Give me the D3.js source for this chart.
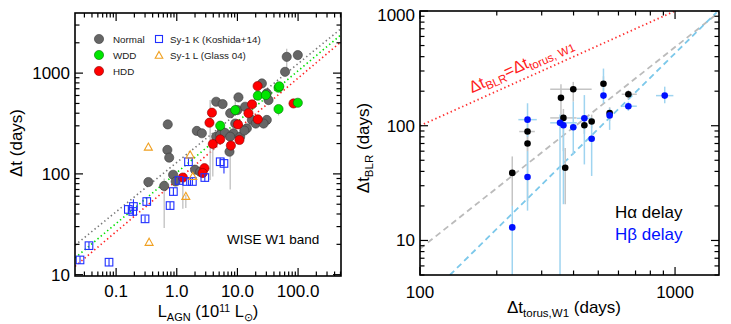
<!DOCTYPE html>
<html><head><meta charset="utf-8">
<script src="https://cdn.jsdelivr.net/npm/d3@7"></script>
<style>body{margin:0;background:#fff}svg{display:block;font-family:"Liberation Sans",Arial,sans-serif}</style>
</head><body><svg id="c" width="731" height="324"></svg>
<script>
// ---------- LEFT PANEL DATA: [L_AGN (1e11 Lsun), dt (days)] ----------
const normalPts = [[0.71,310],[0.70,173],[0.75,145],[0.34,83],[0.62,76],[0.87,98],[0.96,84],[2.14,267],[2.59,253],[2.0,110],[2.43,105],
 [4.46,520],[5.7,493],[4.46,234],[5.5,264],[7.6,400],[10.4,575],[7.4,166],[8.6,253],[10,430],[9.2,316],[13.4,464],[14.3,283],
 [17.3,343],[20,316],[25.3,790],[30.5,630],[30.5,343],[27,316],[32.6,540],[61,1030],[65,1450],[99,1510],[5.2,243],[6.2,256],
 [7.6,234],[11.1,234],[13,269]];
const hddPts = [[1.26,92],[2.86,114],[2.67,102],[3.46,322],[3.8,405],[3.93,198],[5.2,220],[7.8,191],[10.2,310],[10.8,217],
 [15.2,400],[17.4,490],[21.7,348],[21.5,743],[84,500]];
const wddPts = [[5.2,301],[9.2,430],[21.7,597],[29.4,606],[47.6,716],[49,740],[47.6,440],[99,508]];
const sy1kPts = [[0.0254,14.0],[0.0357,19.4],[0.0764,13.3],[0.159,44.4],[0.193,47.5],[0.188,42.4],[0.32,53.2],[0.30,35.8],
 [0.776,48.5],[0.88,66.8],[1.09,86],[1.46,84],[1.81,84],[1.56,132],[2.9,92],[5.2,132],[6.0,127]];
const sy1kLo = [12.8,17.8,12.2,40,38,39,49,33,44.5,61,79,77,77,121,84,121,101];
const sy1kHi = [15.2,21.1,14.4,48.5,56,46,57.5,38.5,52.5,72.5,93,91,91,143,100,145,143];
const sy1lPts = [[0.34,184],[0.35,20.9],[1.41,59.7],[1.66,154],[1.84,94]];
// gray vertical error bars: [L, lo, hi]
const leftErr = [[0.62,29,90],[1.26,45,100],[3.55,87,540],[3.93,94,253],[7.6,70,186],[47.6,380,470],[65,1100,1750],[9.2,430,560],[1.41,46,62]];
// fitted relations dt = A * L^B (gray, green, red)
const fitNormal = [130,0.49], fitWDD = [103,0.505], fitHDD = [86,0.508];
const leftXTicks = [0.1,1,10,100], leftXTickLabels = ["0.1","1.0","10.0","100.0"];
const leftYTicks = [10,100,1000], leftYTickLabels = ["10","100","1000"];

// ---------- RIGHT PANEL DATA ----------
// [dt_torus, dt_BLR, xlo, xhi, ylo, yhi]
const haPts = [[230,38.8,null,null,20,54],[264,89,245,282,60,105],[264,70,null,null,22,85],[357,175,null,null,120,230],
 [365,117,324,411,60,140],[371,43,null,null,20.7,64],[399,208,324,471,162,241],[441,101,null,null,85,120],
 [471,109,null,null,95,125],[524,232,null,null,200,270],[554,129,null,null,110,145],[656,188,618,708,170,205]];
const hbPts = [[230,13,null,null,3,20],[264,113,243,287,80,157],[264,35.7,null,null,18.2,60],[354,106,324,412,3,125],
 [365,101,null,null,20.7,120],[399,97,null,null,56,162],[441,116,412,471,46,185],[471,77,null,null,36.5,116],
 [524,183,null,null,157,315],[554,123,null,null,92,142],[656,148,618,708,135,162],[911,183,842,985,157,219]];
const grayFit = [[100,8.47],[1487,973]];
const blueFit = [[131,5],[1455,973]];
const equality = [[100,100],[1000,1000]];
const rightXTicks = [100,1000], rightXTickLabels = ["100","1000"];
const rightYTicks = [10,100,1000], rightYTickLabels = ["10","100","1000"];

const svg = d3.select("#c");
const defs = svg.append("defs");

function minorTicks(domain){
  const out=[]; const lo=Math.floor(Math.log10(domain[0])), hi=Math.ceil(Math.log10(domain[1]));
  for(let e=lo;e<=hi;e++) for(let m=1;m<10;m++){const v=m*Math.pow(10,e); if(v>=domain[0]&&v<=domain[1]) out.push(v);}
  return out;
}
function frame(g,x,y,majX,majY){
  const [x0,x1]=x.range(), [y0,y1]=y.range();
  const all = minorTicks(x.domain()), allY = minorTicks(y.domain());
  const ln=(a,b,c,d)=>g.append("line").attr("x1",a).attr("y1",b).attr("x2",c).attr("y2",d).attr("stroke","#000").attr("stroke-width",1.2);
  all.forEach(v=>{const L=majX.includes(v)?8:4.5; const px=x(v); ln(px,y0,px,y0-L); ln(px,y1,px,y1+L);});
  allY.forEach(v=>{const L=majY.includes(v)?8:4.5; const py=y(v); ln(x0,py,x0+L,py); ln(x1,py,x1-L,py);});
  g.append("rect").attr("x",x0).attr("y",y1).attr("width",x1-x0).attr("height",y0-y1).attr("fill","none").attr("stroke","#000").attr("stroke-width",1.6);
}
function clip(id,x,y){
  const [x0,x1]=x.range(), [y0,y1]=y.range();
  defs.append("clipPath").attr("id",id).append("rect").attr("x",x0).attr("y",y1).attr("width",x1-x0).attr("height",y0-y1);
}

// ================= LEFT =================
const lx = d3.scaleLog().domain([0.021,510]).range([75,341]);
const ly = d3.scaleLog().domain([9.7,3950]).range([276,13]);
clip("cl",lx,ly);
const L = svg.append("g");
const Lp = L.append("g").attr("clip-path","url(#cl)");
// fits
[[fitNormal,"#777"],[fitWDD,"#00e000"],[fitHDD,"#ff2020"]].forEach(([f,c])=>{
  const xs=[0.021,510];
  Lp.append("line").attr("x1",lx(xs[0])).attr("y1",ly(f[0]*Math.pow(xs[0],f[1])))
    .attr("x2",lx(xs[1])).attr("y2",ly(f[0]*Math.pow(xs[1],f[1])))
    .attr("stroke",c).attr("stroke-width",1.6).attr("stroke-dasharray","1.4,2.8");
});
// error bars
Lp.selectAll(".le").data(leftErr).join("line").attr("x1",d=>lx(d[0])).attr("x2",d=>lx(d[0]))
  .attr("y1",d=>ly(d[1])).attr("y2",d=>ly(d[2])).attr("stroke","#bbb").attr("stroke-width",1.2);
const circ=(data,fill,stroke)=>Lp.append("g").selectAll("circle").data(data).join("circle")
  .attr("cx",d=>lx(d[0])).attr("cy",d=>ly(d[1])).attr("r",4.6).attr("fill",fill).attr("stroke",stroke).attr("stroke-width",0.6);
circ(normalPts,"#666","#3a3a3a");
circ(hddPts,"#ff0000","#8a0000");
circ(wddPts,"#00e600","#007000");
// Sy-1 K squares
Lp.append("g").selectAll("line").data(sy1kPts).join("line")
  .attr("x1",d=>lx(d[0])).attr("x2",d=>lx(d[0])).attr("y1",(d,i)=>ly(sy1kLo[i])).attr("y2",(d,i)=>ly(sy1kHi[i]))
  .attr("stroke","#2030ff").attr("stroke-width",1.1);
Lp.append("g").selectAll("rect").data(sy1kPts).join("rect")
  .attr("x",d=>lx(d[0])-3.8).attr("y",d=>ly(d[1])-3.8).attr("width",7.6).attr("height",7.6)
  .attr("fill","none").attr("stroke","#2030ff").attr("stroke-width",1.1);
// Sy-1 L triangles
const tri=(cx,cy,s)=>`M${cx},${cy-s}L${cx+s*0.95},${cy+s*0.7}L${cx-s*0.95},${cy+s*0.7}Z`;
Lp.append("g").selectAll("path").data(sy1lPts).join("path").attr("d",d=>tri(lx(d[0]),ly(d[1]),4.2))
  .attr("fill","none").attr("stroke","#f0a020").attr("stroke-width",1.1);
frame(L,lx,ly,leftXTicks,leftYTicks);
// tick labels
L.selectAll(".xl").data(leftXTicks).join("text").attr("x",d=>lx(d)).attr("y",297).attr("text-anchor","middle")
  .attr("font-size",17).text((d,i)=>leftXTickLabels[i]);
L.selectAll(".yl").data(leftYTicks).join("text").attr("x",70).attr("y",d=>ly(d)+6).attr("text-anchor","end")
  .attr("font-size",17).text((d,i)=>leftYTickLabels[i]);
// titles
L.append("text").attr("transform","translate(22,143) rotate(-90)").attr("text-anchor","middle").attr("font-size",17).text("Δt (days)");
const xt = L.append("text").attr("x",208).attr("y",317).attr("text-anchor","middle").attr("font-size",16.5);
xt.append("tspan").text("L");
xt.append("tspan").attr("font-size",11).attr("dy",4).text("AGN");
xt.append("tspan").attr("dy",-4).text(" (10");
xt.append("tspan").attr("font-size",10.5).attr("dy",-5).text("11");
xt.append("tspan").attr("dy",5).text(" L");
xt.append("tspan").attr("font-size",11).attr("dy",4).text("⊙");
xt.append("tspan").attr("dy",-4).text(")");
L.append("text").attr("x",227).attr("y",244).attr("font-size",13.5).text("WISE W1 band");
// legend
const lg = L.append("g").attr("font-size",9.8).attr("fill","#222");
[["Normal","#666","#3a3a3a"],["WDD","#00e600","#007000"],["HDD","#ff0000","#8a0000"]].forEach((r,i)=>{
  lg.append("circle").attr("cx",99).attr("cy",39+i*16).attr("r",4.6).attr("fill",r[1]).attr("stroke",r[2]).attr("stroke-width",0.6);
  lg.append("text").attr("x",113).attr("y",42.5+i*16).text(r[0]);
});
lg.append("rect").attr("x",155.5).attr("y",35.5).attr("width",7).attr("height",7).attr("fill","none").attr("stroke","#2030ff").attr("stroke-width",1.1);
lg.append("text").attr("x",170).attr("y",42.5).text("Sy-1 K (Koshida+14)");
lg.append("path").attr("d",tri(159,55.5,4)).attr("fill","none").attr("stroke","#f0a020").attr("stroke-width",1.1);
lg.append("text").attr("x",170).attr("y",58.5).text("Sy-1 L (Glass 04)");

// ================= RIGHT =================
const rx = d3.scaleLog().domain([100,1487]).range([420,719]);
const ry = d3.scaleLog().domain([5,1000]).range([275,11]);
clip("cr",rx,ry);
const R = svg.append("g");
const Rp = R.append("g").attr("clip-path","url(#cr)");
const seg=(d,c,w,dash)=>Rp.append("line").attr("x1",rx(d[0][0])).attr("y1",ry(d[0][1])).attr("x2",rx(d[1][0])).attr("y2",ry(d[1][1]))
  .attr("stroke",c).attr("stroke-width",w).attr("stroke-dasharray",dash);
seg(grayFit,"#bbb",1.8,"6,4");
seg(blueFit,"#7cc8ea",1.8,"6,4");
seg(equality,"#ff3030",1.8,"1.4,2.8");
function errs(data,col){
  const g=Rp.append("g").attr("stroke",col).attr("stroke-width",1.5);
  data.forEach(d=>{
    if(d[4]!=null) g.append("line").attr("x1",rx(d[0])).attr("x2",rx(d[0])).attr("y1",ry(d[4])).attr("y2",ry(d[5]));
    if(d[2]!=null) g.append("line").attr("y1",ry(d[1])).attr("y2",ry(d[1])).attr("x1",rx(d[2])).attr("x2",rx(d[3]));
  });
}
errs(haPts,"#c4c4c4");
errs(hbPts,"#9fd4f0");
Rp.append("g").selectAll("circle").data(haPts).join("circle").attr("cx",d=>rx(d[0])).attr("cy",d=>ry(d[1])).attr("r",3.3).attr("fill","#000");
Rp.append("g").selectAll("circle").data(hbPts).join("circle").attr("cx",d=>rx(d[0])).attr("cy",d=>ry(d[1])).attr("r",3.3).attr("fill","#0010ff");
frame(R,rx,ry,rightXTicks,rightYTicks);
R.selectAll(".xl").data(rightXTicks).join("text").attr("x",d=>rx(d)).attr("y",298).attr("text-anchor","middle")
  .attr("font-size",17).text((d,i)=>rightXTickLabels[i]);
R.selectAll(".yl").data(rightYTicks).join("text").attr("x",415).attr("y",d=>ry(d)+6).attr("text-anchor","end")
  .attr("font-size",17).text((d,i)=>rightYTickLabels[i]).attr("dy",(d,i)=>i==2?4:0);
const yt = R.append("text").attr("transform","translate(369,148) rotate(-90)").attr("text-anchor","middle").attr("font-size",17);
yt.append("tspan").text("Δt");
yt.append("tspan").attr("font-size",11.5).attr("dy",4).text("BLR");
yt.append("tspan").attr("dy",-4).text(" (days)");
const xt2 = R.append("text").attr("x",564).attr("y",313).attr("text-anchor","middle").attr("font-size",17);
xt2.append("tspan").text("Δt");
xt2.append("tspan").attr("font-size",11.5).attr("dy",4).text("torus,W1");
xt2.append("tspan").attr("dy",-4).text(" (days)");
R.append("text").attr("x",615).attr("y",218).attr("font-size",17).attr("fill","#000").text("Hα delay");
R.append("text").attr("x",615).attr("y",240).attr("font-size",17).attr("fill","#0010ff").text("Hβ delay");
// equality label along the red line
const ang = Math.atan2(ry(1000)-ry(100), rx(1000)-rx(100))*180/Math.PI;
const el = R.append("text").attr("transform",`translate(${rx(160)},${ry(160)-9}) rotate(${ang})`).attr("font-size",16.5).attr("fill","#ff2020");
el.append("tspan").text("Δt");
el.append("tspan").attr("font-size",11.5).attr("dy",3.5).text("BLR");
el.append("tspan").attr("dy",-3.5).text("=Δt");
el.append("tspan").attr("font-size",11.5).attr("dy",3.5).text("torus, W1");
</script></body></html>
